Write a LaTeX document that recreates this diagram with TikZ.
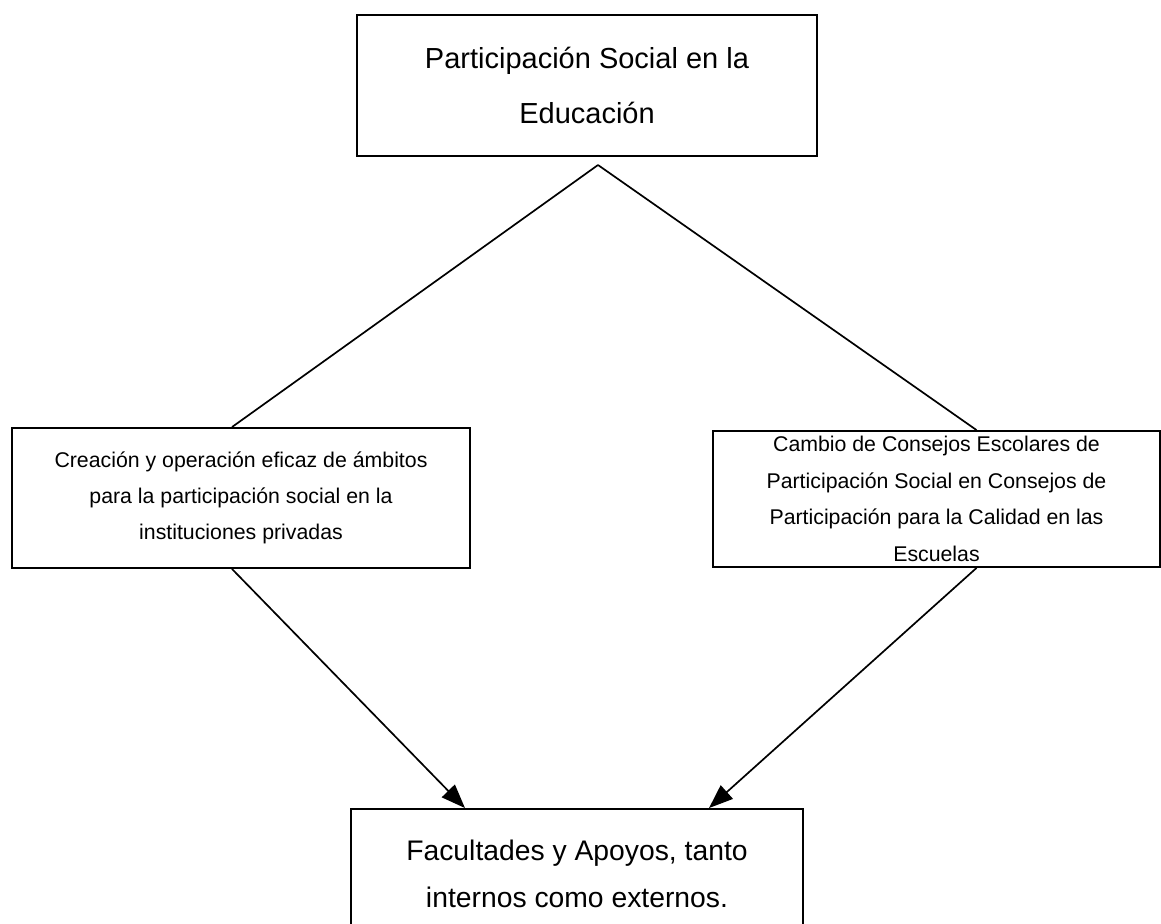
\documentclass[tikz,border=0pt]{standalone}
\usepackage{fontspec}
\setmainfont{Liberation Sans}
\usetikzlibrary{arrows.meta}
\tikzset{
  box/.style={
    draw, rectangle,          % plain framed box
    line width=1.9pt,
    align=center, inner sep=0pt
  },
  link/.style={line width=1.7pt},
  flow/.style={line width=1.7pt, -{Triangle[length=24pt, width=18pt]}}
}

\begin{document}
\begin{tikzpicture}[x=1pt, y=-1pt]
    \useasboundingbox (0,0) rectangle (1161,923);

    % Boxes
    \node[box, minimum width=460pt, minimum height=141pt,
          font=\fontsize{29}{55}\selectfont] (social) at (587,85.5)
          {Participación Social en la\\Educación};
    \node[box, minimum width=458pt, minimum height=140pt,
          font=\fontsize{21.3}{36}\selectfont] (creacion) at (241,498)
          {Creación y operación eficaz de ámbitos\\para la participación social en la\\instituciones privadas};
    \node[box, minimum width=447pt, minimum height=136pt,
          font=\fontsize{21.3}{36.5}\selectfont] (cambio) at (936.5,499)
          {Cambio de Consejos Escolares de\\Participación Social en Consejos de\\Participación para la Calidad en las\\Escuelas};
    \node[box, minimum width=452pt, minimum height=130pt,
          font=\fontsize{28.3}{47}\selectfont] (apoyos) at (577,874)
          {Facultades y Apoyos, tanto\\internos como externos.};

    % Branches from the top
    \coordinate (apex) at (598,165);
    \draw[link] (apex) -- ([xshift=-9pt]creacion.north);
    \draw[link] (apex) -- ([xshift=40pt]cambio.north);

    % Arrows to the bottom
    \draw[flow] ([xshift=-9pt]creacion.south) -- ([xshift=-112pt]apoyos.north);
    \draw[flow] ([xshift=40pt]cambio.south) -- ([xshift=132pt]apoyos.north);
\end{tikzpicture}
\end{document}
